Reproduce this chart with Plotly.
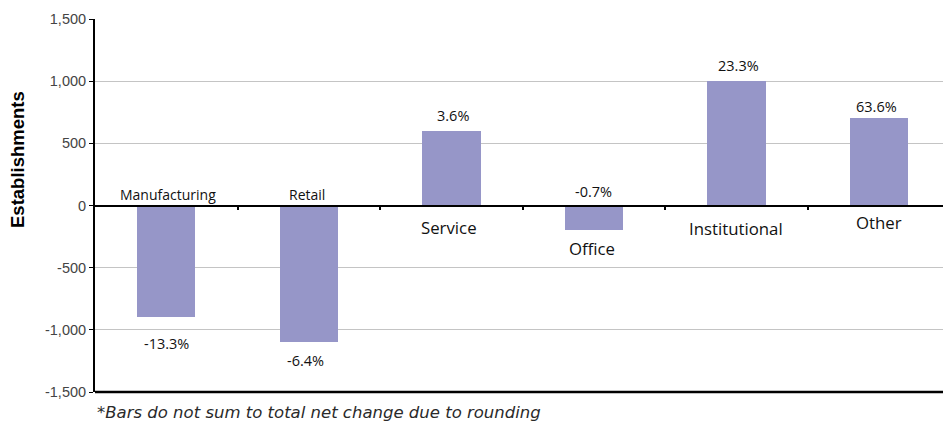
import plotly.graph_objects as go

# Net change in establishments by building type
categories = ["Manufacturing", "Retail", "Service", "Office", "Institutional", "Other"]
net_change = [-900, -1100, 600, -200, 1000, 700]
pct_change = ["-13.3%", "-6.4%", "3.6%", "-0.7%", "23.3%", "63.6%"]
y_ticks = [-1500, -1000, -500, 0, 500, 1000, 1500]
y_tick_text = ["-1,500", "-1,000", "-500", "0", "500", "1,000", "1,500"]
footnote = "*Bars do not sum to total net change due to rounding"

BAR_COLOR = "#9696C8"
LABEL_FONT = "Open Sans"

fig = go.Figure()
fig.add_trace(go.Bar(
    x=list(range(len(categories))),
    y=net_change,
    width=0.41,
    marker=dict(color=BAR_COLOR, line=dict(width=0)),
    hoverinfo="skip",
))

# Category names sit on the opposite side of the zero line from each bar
small_names = {"Manufacturing", "Retail"}
name_shift = {"Manufacturing": 11, "Retail": 11, "Service": -22, "Office": -43,
              "Institutional": -23, "Other": -17}
name_dx = {"Manufacturing": 2, "Retail": -2, "Service": -2, "Office": -2,
           "Institutional": 0, "Other": 0}
for i, name in enumerate(categories):
    fig.add_annotation(
        x=i, y=0, text=name, showarrow=False,
        xanchor="center", yanchor="middle",
        xshift=name_dx[name], yshift=name_shift[name],
        font=dict(family=LABEL_FONT, size=14 if name in small_names else 16.8, color="#111"),
    )

# Percent change labels next to the bar ends
pct_shift = [-26, -18, 15, 14, 16, 12]
pct_dx = [0, -3, 2, 0, 2, -2]
for i, (v, t) in enumerate(zip(net_change, pct_change)):
    y_ref = v if i != 3 else 0
    fig.add_annotation(
        x=i, y=y_ref, text=t, showarrow=False,
        xanchor="center", yanchor="middle",
        xshift=pct_dx[i], yshift=pct_shift[i],
        font=dict(family=LABEL_FONT, size=14.5, color="#111"),
    )

# Y-axis title, placed in the upper part of the left margin
fig.add_annotation(
    xref="paper", yref="paper", x=-0.0908, y=0.622, text="<b>Establishments</b>",
    showarrow=False, textangle=-90, xanchor="center", yanchor="middle",
    font=dict(family="Liberation Sans", size=18.5, color="black"),
)

# Footnote
fig.add_annotation(
    xref="paper", yref="paper", x=0.0, y=-0.056, text=footnote,
    showarrow=False, xanchor="left", yanchor="middle",
    font=dict(family="DejaVu Sans", size=16.5, color="#2a2a2a", style="italic"),
)

# Black baseline along the bottom of the plot area
fig.add_shape(type="line", xref="paper", yref="paper", x0=0, x1=1, y0=0, y1=0,
              line=dict(color="black", width=2.5))

fig.update_layout(
    width=943, height=424,
    margin=dict(l=95, r=0, t=19, b=32),
    paper_bgcolor="white", plot_bgcolor="white",
    showlegend=False,
    bargap=0,
)
fig.update_xaxes(
    range=[-0.5, 5.45],
    anchor="free", position=0.5,
    showline=True, linecolor="black", linewidth=1.5,
    tickvals=[0.5, 1.5, 2.5, 3.5, 4.5], ticktext=[""] * 5,
    ticks="outside", ticklen=4, tickwidth=1.5, tickcolor="black",
    showgrid=False, zeroline=False,
)
fig.update_yaxes(
    range=[-1500, 1500],
    tickvals=y_ticks, ticktext=y_tick_text,
    tickfont=dict(family="Liberation Sans", size=14.5, color="#444"),
    ticks="outside", ticklen=4, tickcolor="black",
    showline=True, linecolor="black", linewidth=2,
    showgrid=True, gridcolor="#C4C4C4", gridwidth=1.2,
    zeroline=False,
)

fig.write_html("out.html")
